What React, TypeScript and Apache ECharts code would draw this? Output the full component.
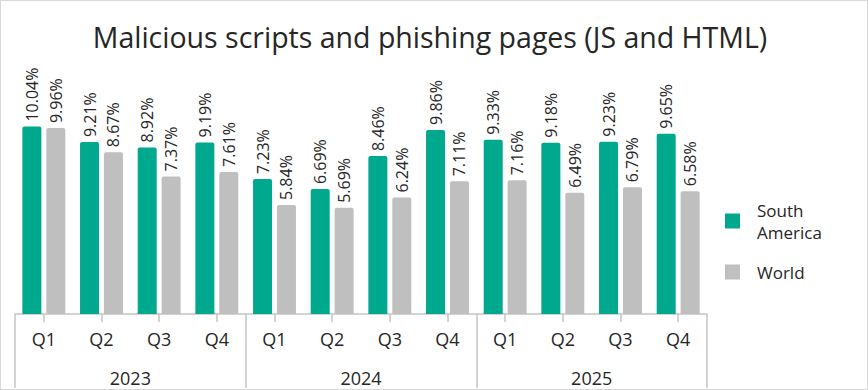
import React, { useEffect, useRef } from "react";
import * as echarts from "echarts";

const quarters = ["Q1", "Q2", "Q3", "Q4", "Q1", "Q2", "Q3", "Q4", "Q1", "Q2", "Q3", "Q4"];
const years = ["2023", "2024", "2025"];
const southAmerica = [10.04, 9.21, 8.92, 9.19, 7.23, 6.69, 8.46, 9.86, 9.33, 9.18, 9.23, 9.65];
const world = [9.96, 8.67, 7.37, 7.61, 5.84, 5.69, 6.24, 7.11, 7.16, 6.49, 6.79, 6.58];

const FONT = "'Open Sans', sans-serif";
const TEXT = "#262626";
const AXIS = "#c4c4c4";

export default function App() {
  const ref = useRef<HTMLDivElement>(null);
  useEffect(() => {
    if (!ref.current) return;
    const chart = echarts.init(ref.current, undefined, { renderer: "svg" });
    const fmt = (v: number) => v.toFixed(2) + "%";
    const label = {
      show: true,
      position: "top",
      rotate: 90,
      align: "left",
      verticalAlign: "middle",
      distance: 5,
      fontSize: 16,
      fontFamily: FONT,
      color: TEXT,
      formatter: (p: any) => fmt(p.value),
    };
    chart.setOption({
      animation: false,
      title: {
        text: "Malicious scripts and phishing pages (JS and HTML)",
        left: 425,
        textAlign: "center",
        top: 17,
        textStyle: { fontSize: 28.5, fontWeight: "normal", fontFamily: FONT, color: TEXT },
      },
      legend: {
        orient: "vertical",
        left: 720,
        top: 194,
        itemWidth: 15,
        itemHeight: 15,
        itemGap: 18,
        icon: "rect",
        textStyle: { fontSize: 17, fontFamily: FONT, color: TEXT, lineHeight: 22, padding: [0, 0, 0, 12] },
        formatter: (n: string) => n.replace(" ", "\n"),
        data: ["South America", "World"],
      },
      grid: { left: 15, right: 161, top: 90, bottom: 76, containLabel: false },
      xAxis: [
        {
          type: "category",
          data: quarters,
          axisLine: { show: true, lineStyle: { color: AXIS, width: 1.5 } },
          axisTick: { show: true, interval: 0, alignWithLabel: true, length: 8, lineStyle: { color: AXIS, width: 1.5 } },
          axisLabel: { fontSize: 18, fontFamily: FONT, color: TEXT, margin: 16 },
        },
        {
          type: "category",
          data: years,
          position: "bottom",
          axisLine: { show: false },
          axisTick: { show: true, interval: 0, length: 74, lineStyle: { color: AXIS, width: 1.5 } },
          axisLabel: { fontSize: 18, fontFamily: FONT, color: TEXT, margin: 55 },
        },
      ],
      yAxis: { type: "value", min: 0, max: 12, show: false, splitLine: { show: false } },
      series: [
        {
          name: "South America",
          type: "bar",
          data: southAmerica,
          barWidth: 19,
          barGap: "26%",
          itemStyle: { color: "#00A88E", borderRadius: [2, 2, 0, 0] },
          label,
        },
        {
          name: "World",
          type: "bar",
          data: world,
          barWidth: 19,
          barGap: "26%",
          itemStyle: { color: "#BFBFBF", borderRadius: [2, 2, 0, 0] },
          label,
        },
      ],
    });
    return () => chart.dispose();
  }, []);
  return (
    <div
      style={{
        position: "absolute",
        left: 0,
        top: 0,
        width: 868,
        height: 390,
        boxSizing: "border-box",
        border: "1.5px solid #d9d9d9",
        background: "#fff",
      }}
    >
      <div ref={ref} style={{ position: "absolute", left: -1.5, top: -1.5, width: 868, height: 390 }} />
    </div>
  );
}
